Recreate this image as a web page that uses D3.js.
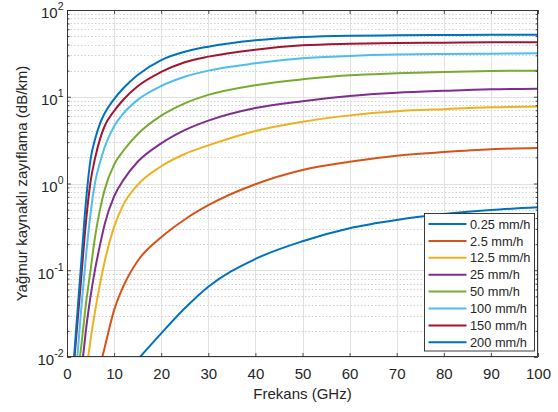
<!DOCTYPE html>
<html>
<head>
<meta charset="utf-8">
<script src="https://cdn.jsdelivr.net/npm/d3@7"></script>
<style>
  html, body { margin: 0; padding: 0; background: #fff; }
  svg { display: block; font-family: "Liberation Sans", Arial, Helvetica, sans-serif; }
</style>
</head>
<body>
<script>
// ---------------- data ----------------
const freqGHz = [2, 3, 4, 5, 6, 7, 8, 10, 12, 15, 20, 25, 30, 40, 50, 60, 70, 80, 90, 100];
const seriesNames = ["0.25 mm/h", "2.5 mm/h", "12.5 mm/h", "25 mm/h", "50 mm/h", "100 mm/h", "150 mm/h", "200 mm/h"];
// frequency at which each curve enters the plot at the bottom (0.01 dB/km)
const entryGHz = [15.5, 7.5, 4.5, 3.4, 2.75, 2.2, 1.6, 1.5];
// attenuation in dB/km at freqGHz (null = below 0.01)
const r025 = [null, null, null, null, null, null, null, null, null, null, 0.0187, 0.0364, 0.0646, 0.135, 0.216, 0.305, 0.38, 0.445, 0.495, 0.532];
const r2_5 = [null, null, null, null, null, null, 0.0129, 0.0347, 0.066, 0.128, 0.24, 0.385, 0.562, 0.98, 1.43, 1.78, 2.09, 2.3, 2.48, 2.57];
const r12_5 = [null, null, null, 0.0158, 0.0347, 0.069, 0.126, 0.316, 0.575, 0.966, 1.58, 2.19, 2.75, 4.03, 5.15, 6.1, 6.8, 7.2, 7.55, 7.7];
const r25 = [null, null, 0.02, 0.05, 0.105, 0.195, 0.34, 0.71, 1.1, 1.78, 2.9, 4.12, 5.3, 7.4, 8.9, 10.2, 11.1, 11.7, 12.2, 12.4];
const r50 = [null, 0.013, 0.04, 0.1, 0.25, 0.5, 0.85, 1.65, 2.4, 3.7, 6.05, 8.4, 10.5, 13.6, 15.9, 17.7, 18.6, 19.3, 19.8, 20.0];
const r100 = [null, 0.035, 0.14, 0.45, 1.05, 1.75, 2.63, 4.57, 6.45, 9.2, 13.3, 17, 20, 24.3, 27.7, 29.5, 30.6, 31.1, 31.4, 31.7];
const r150 = [0.018, 0.079, 0.35, 1.05, 2.0, 3.25, 4.6, 6.85, 9.3, 13.2, 19.3, 25, 29, 34.9, 39.2, 40.9, 41.7, 42.0, 42.4, 42.4];
const r200 = [0.023, 0.118, 0.6, 1.9, 3.3, 4.9, 6.45, 9.4, 12.6, 17.8, 26.5, 33, 37.8, 44.7, 48.9, 50.6, 51.1, 51.5, 51.9, 52.0];
const seriesValues = [r025, r2_5, r12_5, r25, r50, r100, r150, r200];
const xTicks = [0, 10, 20, 30, 40, 50, 60, 70, 80, 90, 100];
const yDecades = [-2, -1, 0, 1, 2];
const colors = ["#0072BD", "#D95319", "#EDB120", "#7E2F8E", "#77AC30", "#4DBEEE", "#A2142F", "#0072BD"];
const xLabel = "Frekans (GHz)";
const yLabel = "Yağmur kaynaklı zayıflama (dB/km)";

// ---------------- layout ----------------
const W = 558, H = 412;
const L = 67, R = 538, T = 10, B = 357;
const axisColor = "#262626";
const FONT = 15;

const x = d3.scaleLinear().domain([0, 100]).range([L, R]);
const y = d3.scaleLog().domain([0.01, 100]).range([B, T]);

const svg = d3.select("body").append("svg").attr("width", W).attr("height", H);

svg.append("defs").append("clipPath").attr("id", "clip")
  .append("rect").attr("x", L).attr("y", T).attr("width", R - L).attr("height", B - T);

// ---------------- grid ----------------
const allY = y.ticks();
const isMajor = v => Math.abs(Math.log10(v) - Math.round(Math.log10(v))) < 1e-9;
const minorY = allY.filter(v => !isMajor(v));
const majorY = allY.filter(isMajor);

const grid = svg.append("g");
grid.selectAll("line.minor").data(minorY).join("line")
  .attr("x1", L).attr("x2", R)
  .attr("y1", d => Math.round(y(d)) + 0.5).attr("y2", d => Math.round(y(d)) + 0.5)
  .attr("stroke", "#d0d0d0").attr("stroke-width", 1).attr("stroke-dasharray", "1.5,2");
grid.selectAll("line.majy").data(majorY).join("line")
  .attr("x1", L).attr("x2", R)
  .attr("y1", d => Math.round(y(d)) + 0.5).attr("y2", d => Math.round(y(d)) + 0.5)
  .attr("stroke", "#e2e2e2").attr("stroke-width", 1);
grid.selectAll("line.majx").data(xTicks).join("line")
  .attr("y1", T).attr("y2", B)
  .attr("x1", d => Math.round(x(d)) + 0.5).attr("x2", d => Math.round(x(d)) + 0.5)
  .attr("stroke", "#e2e2e2").attr("stroke-width", 1);

// ---------------- curves ----------------
const line = d3.line()
  .x(d => x(d.f)).y(d => y(d.v))
  .curve(d3.curveMonotoneX);

const series = seriesNames.map((name, i) => {
  const pts = [{ f: entryGHz[i], v: 0.01 }];
  freqGHz.forEach((f, j) => {
    const v = seriesValues[i][j];
    if (v != null && f > entryGHz[i]) pts.push({ f, v });
  });
  return { name, color: colors[i], pts };
});

svg.append("g").attr("clip-path", "url(#clip)")
  .selectAll("path").data(series).join("path")
  .attr("d", d => line(d.pts))
  .attr("fill", "none")
  .attr("stroke", d => d.color)
  .attr("stroke-width", 2)
  .attr("stroke-linejoin", "round");

// ---------------- axes ----------------
const xb = d3.axisBottom(x).tickValues(xTicks).tickSize(-4).tickPadding(11).tickFormat(d3.format("d"));
const xt = d3.axisTop(x).tickValues(xTicks).tickSize(-4).tickFormat("");
const yl = d3.axisLeft(y).tickValues(majorY).tickSize(-4).tickFormat("");
const yr = d3.axisRight(y).tickValues(majorY).tickSize(-4).tickFormat("");
const ylm = d3.axisLeft(y).tickValues(minorY).tickSize(-2.5).tickFormat("");
const yrm = d3.axisRight(y).tickValues(minorY).tickSize(-2.5).tickFormat("");

function style(g) {
  g.select(".domain").remove();
  g.selectAll(".tick line").attr("stroke", axisColor).attr("stroke-width", 0.8);
  g.selectAll("text").attr("fill", axisColor).attr("font-size", FONT)
    .attr("font-family", "Liberation Sans, Arial, sans-serif");
}
svg.append("g").attr("transform", `translate(0,${B})`).call(xb).call(style);
svg.append("g").attr("transform", `translate(0,${T})`).call(xt).call(style);
svg.append("g").attr("transform", `translate(${L},0)`).call(yl).call(style);
svg.append("g").attr("transform", `translate(${R},0)`).call(yr).call(style);
svg.append("g").attr("transform", `translate(${L},0)`).call(ylm).call(style);
svg.append("g").attr("transform", `translate(${R},0)`).call(yrm).call(style);

// axes box
svg.append("rect").attr("x", L + 0.5).attr("y", T + 0.5)
  .attr("width", R - L - 1).attr("height", B - T - 1)
  .attr("fill", "none").attr("stroke", axisColor).attr("stroke-width", 0.9);

// y tick labels 10^n
const ylab = svg.append("g");
yDecades.forEach(e => {
  const t = ylab.append("text")
    .attr("x", L - 3.5).attr("y", y(Math.pow(10, e)) + 8.3)
    .attr("text-anchor", "end").attr("fill", axisColor).attr("font-size", FONT);
  t.append("tspan").text("10");
  t.append("tspan").attr("dy", -8).attr("font-size", 10.5).text(String(e));
});

// axis labels
svg.append("text").attr("x", (L + R) / 2).attr("y", 398.5)
  .attr("text-anchor", "middle").attr("fill", axisColor).attr("font-size", FONT).text(xLabel);
svg.append("text").attr("transform", "translate(26.5,183.5) rotate(-90)")
  .attr("text-anchor", "middle").attr("fill", axisColor).attr("font-size", FONT).text(yLabel);

// ---------------- legend ----------------
const lg = svg.append("g");
const lgX = 424.5, lgY = 213.5, lgW = 110, lgH = 137.5, rowH = 16.9, row0 = 224;
lg.append("rect").attr("x", lgX).attr("y", lgY).attr("width", lgW).attr("height", lgH)
  .attr("fill", "#fff").attr("stroke", axisColor).attr("stroke-width", 0.9);
const rows = lg.selectAll("g.row").data(series).join("g")
  .attr("transform", (d, i) => `translate(0,${row0 + i * rowH})`);
rows.append("line").attr("x1", 428.5).attr("x2", 466.5).attr("y1", 0).attr("y2", 0)
  .attr("stroke", d => d.color).attr("stroke-width", 2);
rows.append("text").attr("x", 470).attr("y", 4.6)
  .attr("fill", axisColor).attr("font-size", 12.8).text(d => d.name);
</script>
</body>
</html>
